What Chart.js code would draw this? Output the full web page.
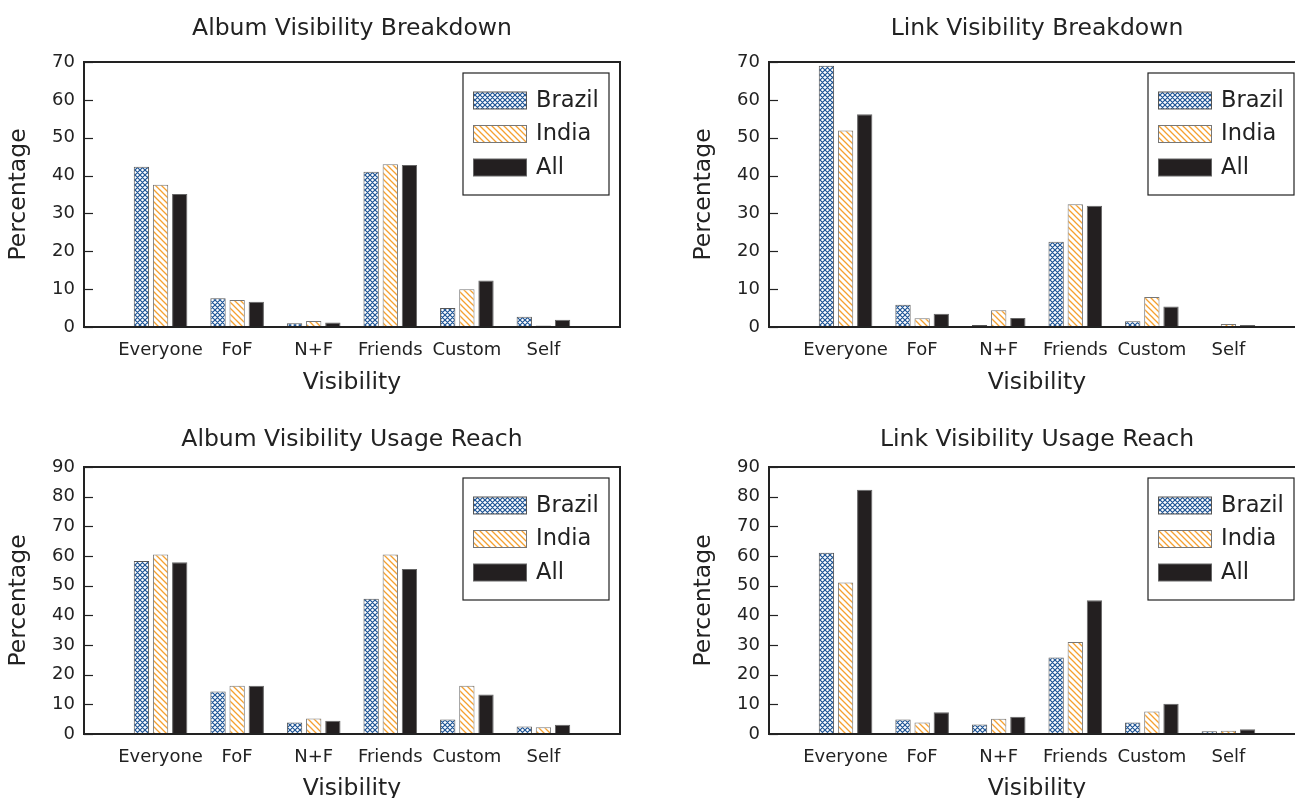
<!DOCTYPE html>
<html>
<head>
<meta charset="utf-8">
<script src="https://cdn.jsdelivr.net/npm/chart.js@4.4.1/dist/chart.umd.min.js"></script>
<style>
  html, body { margin: 0; padding: 0; background: #fff; overflow: hidden; width: 1295px; height: 798px; }
  .box { position: absolute; }
</style>
</head>
<body>
<div class="box" style="left:0px; top:0px; width:640px; height:400px;"><canvas id="c1"></canvas></div>
<div class="box" style="left:685px; top:0px; width:640px; height:400px;"><canvas id="c2"></canvas></div>
<div class="box" style="left:0px; top:405px; width:640px; height:400px;"><canvas id="c3"></canvas></div>
<div class="box" style="left:685px; top:405px; width:640px; height:400px;"><canvas id="c4"></canvas></div>
<script>
// ---------- data ----------
const categories = ["Everyone", "FoF", "N+F", "Friends", "Custom", "Self"];
const seriesNames = ["Brazil", "India", "All"];

const albumBreakdownBrazil = [42.3, 7.6, 1.0, 41.0, 5.0, 2.7];
const albumBreakdownIndia  = [37.6, 7.1, 1.6, 43.0, 10.0, 0.4];
const albumBreakdownAll    = [35.1, 6.7, 1.2, 42.8, 12.3, 1.9];

const linkBreakdownBrazil = [69.0, 5.9, 0.5, 22.5, 1.5, 0.2];
const linkBreakdownIndia  = [51.9, 2.3, 4.4, 32.4, 7.9, 0.8];
const linkBreakdownAll    = [56.2, 3.5, 2.4, 32.0, 5.4, 0.5];

const albumReachBrazil = [58.3, 14.3, 3.9, 45.6, 4.9, 2.5];
const albumReachIndia  = [60.5, 16.3, 5.2, 60.5, 16.3, 2.3];
const albumReachAll    = [57.9, 16.3, 4.5, 55.6, 13.3, 3.1];

const linkReachBrazil = [61.1, 4.9, 3.2, 25.8, 3.9, 0.9];
const linkReachIndia  = [51.1, 3.9, 5.1, 31.0, 7.6, 1.1];
const linkReachAll    = [82.3, 7.3, 5.8, 45.1, 10.2, 1.6];

const titles = ["Album Visibility Breakdown", "Link Visibility Breakdown",
                "Album Visibility Usage Reach", "Link Visibility Usage Reach"];
const yMaxes = [70, 70, 90, 90];
const xAxisTitle = "Visibility";
const yAxisTitle = "Percentage";

// ---------- styles ----------
const FONT = "'DejaVu Sans', 'Bitstream Vera Sans', sans-serif";
const TEXT = "#222222";

function makePattern(kind) {
  const c = document.createElement('canvas');
  const s = kind === 'cross' ? 5 : 6;
  c.width = s; c.height = s;
  const g = c.getContext('2d');
  g.fillStyle = '#ffffff';
  g.fillRect(0, 0, s, s);
  if (kind === 'cross') {
    g.lineWidth = 1.2;
    g.strokeStyle = '#1d5496';
    g.beginPath();
    for (const o of [-s, 0, s]) {
      g.moveTo(-1, -1 + o); g.lineTo(s + 1, s + 1 + o);
      g.moveTo(s + 1, -1 + o); g.lineTo(-1, s + 1 + o);
    }
    g.stroke();
  } else {
    g.lineWidth = 1.3;
    g.strokeStyle = '#f5a030';
    g.beginPath();
    for (const o of [-s, 0, s]) {
      g.moveTo(-1, -1 + o); g.lineTo(s + 1, s + 1 + o);
    }
    g.stroke();
  }
  return g.createPattern(c, 'repeat');
}
const fills = [makePattern('cross'), makePattern('diag'), '#231f20'];
const edges = ['#555555', '#777777', '#666666'];

// frame + inward y ticks + title centred on plot
const framePlugin = {
  id: 'frame',
  afterDraw(chart, args, opts) {
    const {ctx, chartArea: a, scales} = chart;
    const y = scales.y;
    ctx.save();
    ctx.strokeStyle = '#222222';
    ctx.lineWidth = 1.2;
    y.ticks.forEach(t => {
      const py = Math.round(y.getPixelForValue(t.value)) + 0.5;
      ctx.beginPath();
      ctx.moveTo(a.left, py);
      ctx.lineTo(a.left + 9, py);
      ctx.stroke();
    });
    ctx.lineWidth = 2;
    ctx.strokeRect(a.left, a.top, a.right - a.left, a.bottom - a.top);
    // title
    ctx.fillStyle = TEXT;
    ctx.font = "23.5px " + FONT;
    ctx.textAlign = 'center';
    ctx.textBaseline = 'middle';
    ctx.fillText(opts.text, (a.left + a.right) / 2, opts.y);
    ctx.restore();
  }
};

// legend drawn inside the plot, from dataset labels / fills
const innerLegend = {
  id: 'innerLegend',
  afterDraw(chart) {
    const {ctx, chartArea: a} = chart;
    const w = 146, h = 122;
    const x0 = a.right - 11 - w, y0 = a.top + 11;
    ctx.save();
    ctx.fillStyle = '#ffffff';
    ctx.fillRect(x0, y0, w, h);
    ctx.strokeStyle = '#222222';
    ctx.lineWidth = 1.2;
    ctx.strokeRect(x0, y0, w, h);
    ctx.font = "22.5px " + FONT;
    ctx.textBaseline = 'middle';
    ctx.textAlign = 'left';
    chart.data.datasets.forEach((ds, i) => {
      const sy = y0 + 19 + i * 33.5;
      ctx.fillStyle = ds.backgroundColor;
      ctx.fillRect(x0 + 10.5, sy, 53, 17);
      ctx.strokeStyle = ds.borderColor;
      ctx.lineWidth = 1;
      ctx.strokeRect(x0 + 10.5, sy, 53, 17);
      ctx.fillStyle = TEXT;
      ctx.fillText(ds.label, x0 + 73, sy + 9);
    });
    ctx.restore();
  }
};

function build(canvasId, title, yMax, seriesValues, isTop) {
  const datasets = seriesNames.map((name, k) => ({
    label: name,
    data: seriesValues[k].map((v, i) => ({x: i, y: v})),
    backgroundColor: fills[k],
    borderColor: edges[k],
    borderWidth: 1,
    categoryPercentage: 0.75,
    barPercentage: 0.8
  }));
  return new Chart(document.getElementById(canvasId), {
    type: 'bar',
    data: { datasets },
    options: {
      responsive: true,
      maintainAspectRatio: false,
      animation: false,
      layout: { padding: { left: 0, right: 20, top: 62, bottom: 0 } },
      plugins: {
        legend: { display: false },
        tooltip: { enabled: false },
        title: { display: false },
        frame: { text: title, y: isTop ? 29 : 35 }
      },
      scales: {
        x: {
          type: 'linear',
          min: -1, max: 6,
          offset: false,
          grid: { display: false },
          border: { display: false },
          afterBuildTicks: (s) => { s.ticks = categories.map((_, i) => ({ value: i })); },
          afterFit: (s) => { s.height = isTop ? 73 : 71; },
          ticks: {
            autoSkip: false, maxRotation: 0,
            padding: 5,
            color: TEXT,
            font: { family: FONT, size: 18 },
            callback: (v) => categories[v] ?? ''
          },
          title: {
            display: true, text: xAxisTitle, color: TEXT,
            font: { family: FONT, size: 23.5 },
            padding: { top: 0, bottom: isTop ? 3 : 2 }
          }
        },
        y: {
          min: 0, max: yMax,
          grid: { display: false },
          border: { display: false },
          afterFit: (s) => { s.width = 84; },
          ticks: {
            stepSize: 10,
            padding: 1,
            color: TEXT,
            font: { family: FONT, size: 18 }
          },
          title: {
            display: true, text: yAxisTitle, color: TEXT,
            font: { family: FONT, size: 23.5 },
            padding: { top: 5, bottom: 0 }
          }
        }
      }
    },
    plugins: [framePlugin, innerLegend]
  });
}

build('c1', titles[0], yMaxes[0], [albumBreakdownBrazil, albumBreakdownIndia, albumBreakdownAll], true);
build('c2', titles[1], yMaxes[1], [linkBreakdownBrazil, linkBreakdownIndia, linkBreakdownAll], true);
build('c3', titles[2], yMaxes[2], [albumReachBrazil, albumReachIndia, albumReachAll], false);
build('c4', titles[3], yMaxes[3], [linkReachBrazil, linkReachIndia, linkReachAll], false);
</script>
</body>
</html>
